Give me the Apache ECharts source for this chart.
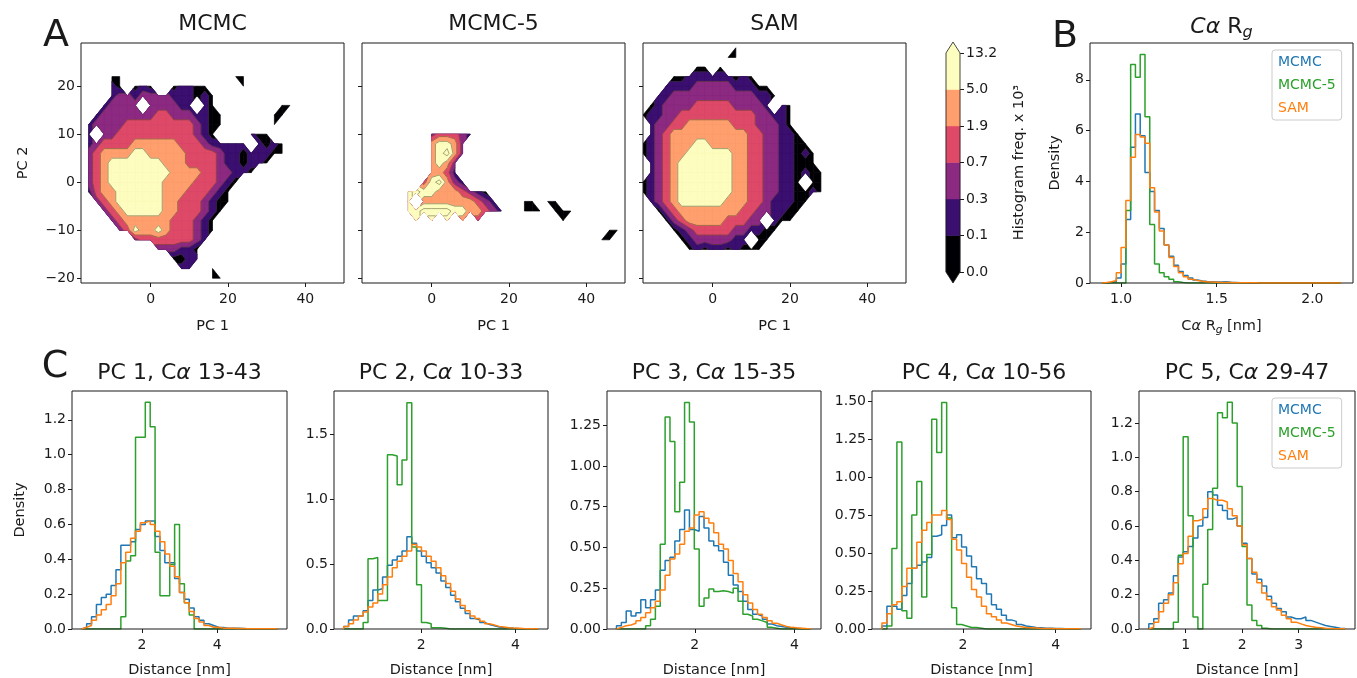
<!DOCTYPE html>
<html>
<head>
<meta charset="utf-8">
<title>MCMC / MCMC-5 / SAM</title>
<script src="https://cdn.jsdelivr.net/npm/echarts@6.0.0/dist/echarts.min.js"></script>
<style>
  html, body { margin: 0; background: #fff; }
  #main { width: 1357px; height: 678px; }
</style>
</head>
<body>
<div id="main"></div>
<script>
const FONT = 'DejaVu Sans';
const INK = '#1a1a1a';
const seriesNames = ['MCMC', 'MCMC-5', 'SAM'];
const seriesColors = ['#1f77b4', '#2ca02c', '#ff7f0e'];

// A: PC1/PC2 2D histograms. one digit per grid node, 0 = empty bin,
// 1..6 = contour band between levels[k-1] and levels[k], 7 = above the top level
const levels = [0.0, 0.1, 0.3, 0.7, 1.9, 5.0, 13.2];
const bandColors = ['#000004', '#3b0f70', '#8c2981', '#de4968', '#fe9f6d', '#fcfdbf'];
const overColor = '#fcfdbf';
const nodeX0 = -18, nodeY0 = 28, nodeStep = 2;

const mcmcGrid = [
  '', '', '',
  '00001100000000000000110000000',
  '00002101210012211000010000000',
  '00002332333322212100000000000',
  '00023333033332202100000000110',
  '00233333334433322110000001100',
  '02333344444444432110000001000',
  '02033444444444432100002110000',
  '02344445555554443222220212100',
  '03455556655555444432212221100',
  '03456666666555444432212210000',
  '03456666666655554433221000000',
  '03456666666555544432100000000',
  '02455666666555444321000000000',
  '00345666666554443211000000000',
  '00034566666554443210000000000',
  '00003455555544432100000000000',
  '00000346556544432100000000000',
  '00000003444444432000000000000',
  '00000000003332210000000000000',
  '00000000000011220000000000000',
  '00000000000002200100000000000',
  '00000000000000000110000000000'
];

const mcmc5Grid = [
  '', '', '', '', '', '', '', '', '',
  '000000000344432',
  '00000000056653',
  '00000000056753',
  '0000000005653',
  '0000000005542',
  '00000000467532',
  '00000067665554321',
  '00000060555555543200011011',
  '0000006677776655432001110111',
  '000000060606050400000000001',
  '0000000000000000000000000000000011',
  '000000000000000000000000000000011',
  '', '', '', ''
];

const samGrid = [
  '0000000000001',
  '0000000000011',
  '00000001101',
  '000011222222121',
  '00022223333322211',
  '002233333333333221',
  '01233334444433332021',
  '12233444444444433221',
  '02334455555544433321',
  '023455555555554433221',
  '1234555665555544332211',
  '12345566666655443322121',
  '02345666666655443322111',
  '023456666666554433221211',
  '123456666666554433221011',
  '123456666666554433221121',
  '0234566666655544322211',
  '001345555555544332211',
  '00013455555444330211',
  '000012344444332211',
  '00000123333322011',
  '0000001212212111',
  '', '', ''
];

// B: C-alpha radius of gyration histograms (density), shared bins
const rgStart = 0.9, rgWidth = 0.025;
const rgMcmc = [0, 0.02, 0.05, 0.2, 0.75, 2.5, 5.35, 6.65, 5.8, 4.35,
  3.6, 2.85, 2.15, 1.5, 1.05, 0.7, 0.45, 0.3, 0.2, 0.12,
  0.08, 0.06, 0.05, 0.04, 0.04, 0.05, 0.03, 0.02, 0.01, 0.01,
  0, 0, 0, 0, 0, 0, 0, 0, 0, 0, 0, 0, 0, 0, 0, 0, 0, 0, 0, 0];
const rgMcmc5 = [0, 0, 0, 0, 0, 2.85, 8.6, 8.1, 9.0, 6.55,
  2.3, 0.75, 0.4, 0.25, 0.15, 0.05, 0.02, 0, 0, 0,
  0, 0, 0, 0, 0, 0, 0, 0, 0, 0, 0, 0, 0, 0, 0, 0, 0, 0, 0, 0,
  0, 0, 0, 0, 0, 0, 0, 0, 0, 0];
const rgSam = [0.02, 0.05, 0.1, 0.4, 1.4, 3.25, 4.95, 5.85, 5.75, 5.5,
  3.75, 2.8, 2.05, 1.5, 1.0, 0.65, 0.4, 0.25, 0.15, 0.1,
  0.07, 0.05, 0.04, 0.03, 0.02, 0.02, 0.015, 0.01, 0.01, 0.008,
  0.005, 0.005, 0.004, 0.004, 0.003, 0.003, 0.002, 0.002, 0.002, 0.001,
  0.001, 0.001, 0.001, 0.001, 0.001, 0.001, 0.001, 0.001, 0.001, 0.001];

// C: distance histograms for the five PCs (40 shared bins each)
const pcTitles = ['PC 1, C{it|α} 13-43', 'PC 2, C{it|α} 10-33', 'PC 3, C{it|α} 15-35',
  'PC 4, C{it|α} 10-56', 'PC 5, C{it|α} 29-47'];
const pcBinStart = [0.4, 0.36, 0.43, 0.25, 0.35];
const pcBinWidth = [0.13, 0.103, 0.0975, 0.1075, 0.0868];

const pc1Mcmc = [0.01, 0.03, 0.07, 0.14, 0.18, 0.2, 0.25, 0.34, 0.48, 0.48,
  0.5, 0.57, 0.6, 0.62, 0.62, 0.53, 0.45, 0.38, 0.38, 0.29,
  0.21, 0.17, 0.12, 0.07, 0.05, 0.03, 0.02, 0.01, 0.008, 0.005,
  0.005, 0.004, 0.003, 0.002, 0.002, 0.002, 0.001, 0.001, 0.001, 0.001];
const pc1Mcmc5 = [0, 0, 0, 0, 0, 0, 0, 0, 0.07, 0.39,
  0.42, 1.1, 1.1, 1.3, 1.16, 0.44, 0.19, 0.19, 0.37, 0.6,
  0.26, 0.15, 0.08, 0, 0, 0, 0, 0, 0, 0,
  0, 0, 0, 0, 0, 0, 0, 0, 0, 0];
const pc1Sam = [0.01, 0.02, 0.05, 0.08, 0.11, 0.14, 0.19, 0.26, 0.38, 0.44,
  0.52, 0.56, 0.61, 0.62, 0.6, 0.56, 0.5, 0.43, 0.36, 0.3,
  0.21, 0.15, 0.1, 0.06, 0.04, 0.02, 0.01, 0.01, 0.005, 0.005,
  0.004, 0.003, 0.003, 0.002, 0.002, 0.001, 0.001, 0.001, 0.001, 0.001];

const pc2Mcmc = [0.02, 0.07, 0.1, 0.1, 0.14, 0.22, 0.3, 0.31, 0.4, 0.49,
  0.53, 0.56, 0.6, 0.71, 0.66, 0.6, 0.56, 0.51, 0.47, 0.43,
  0.37, 0.32, 0.26, 0.21, 0.16, 0.12, 0.08, 0.07, 0.05, 0.035,
  0.025, 0.015, 0.01, 0.008, 0.005, 0.003, 0.002, 0.001, 0.001, 0.001];
const pc2Mcmc5 = [0, 0, 0, 0, 0.05, 0.54, 0.55, 0.22, 0.22, 1.34,
  1.33, 1.11, 1.3, 1.74, 0.63, 0.34, 0.05, 0.04, 0.01, 0.01,
  0.005, 0, 0, 0, 0, 0, 0, 0, 0, 0,
  0, 0, 0, 0, 0, 0, 0, 0, 0, 0];
const pc2Sam = [0.02, 0.04, 0.07, 0.1, 0.13, 0.17, 0.2, 0.27, 0.34, 0.4,
  0.47, 0.52, 0.56, 0.6, 0.65, 0.63, 0.6, 0.56, 0.52, 0.47,
  0.41, 0.35, 0.29, 0.23, 0.18, 0.14, 0.1, 0.08, 0.06, 0.04,
  0.03, 0.02, 0.015, 0.01, 0.007, 0.005, 0.003, 0.002, 0.001, 0.001];

const pc3Mcmc = [0.02, 0.04, 0.11, 0.08, 0.1, 0.18, 0.13, 0.18, 0.24, 0.36,
  0.42, 0.44, 0.54, 0.61, 0.73, 0.61, 0.6, 0.69, 0.62, 0.54,
  0.51, 0.48, 0.41, 0.33, 0.27, 0.23, 0.17, 0.12, 0.09, 0.08,
  0.06, 0.03, 0.02, 0.015, 0.01, 0.008, 0.005, 0.003, 0.002, 0.001];
const pc3Mcmc5 = [0, 0, 0, 0, 0, 0, 0.02, 0.06, 0.14, 0.52,
  1.3, 1.15, 0.72, 0.9, 1.39, 1.27, 0.49, 0.14, 0.19, 0.245,
  0.23, 0.235, 0.23, 0.22, 0.25, 0.17, 0.09, 0.08, 0.06, 0.05,
  0.04, 0.01, 0.005, 0, 0, 0, 0, 0, 0, 0];
const pc3Sam = [0.01, 0.02, 0.025, 0.035, 0.05, 0.07, 0.1, 0.13, 0.17, 0.24,
  0.33, 0.43, 0.46, 0.52, 0.6, 0.62, 0.7, 0.72, 0.68, 0.65,
  0.59, 0.52, 0.49, 0.42, 0.34, 0.29, 0.21, 0.16, 0.12, 0.09,
  0.07, 0.05, 0.035, 0.025, 0.015, 0.01, 0.007, 0.005, 0.003, 0.002];

const pc4Mcmc = [0.02, 0.15, 0.15, 0.13, 0.22, 0.3, 0.4, 0.42, 0.44, 0.47,
  0.61, 0.62, 0.68, 0.75, 0.6, 0.62, 0.54, 0.48, 0.41, 0.33,
  0.3, 0.23, 0.16, 0.13, 0.09, 0.06, 0.05, 0.03, 0.02, 0.015,
  0.01, 0.008, 0.005, 0.005, 0.003, 0.003, 0.002, 0.002, 0.001, 0.001];
const pc4Mcmc5 = [0, 0.02, 0.53, 1.23, 0.12, 0.07, 0.75, 0.97, 0.21, 0.49,
  1.38, 1.16, 1.49, 0.73, 0.14, 0.03, 0.02, 0.01, 0.01, 0.005,
  0, 0, 0, 0, 0, 0, 0, 0, 0, 0,
  0, 0, 0, 0, 0, 0, 0, 0, 0, 0];
const pc4Sam = [0.04, 0.1, 0.16, 0.18, 0.28, 0.4, 0.4, 0.57, 0.65, 0.7,
  0.75, 0.75, 0.78, 0.72, 0.59, 0.52, 0.43, 0.34, 0.26, 0.21,
  0.15, 0.1, 0.08, 0.06, 0.04, 0.03, 0.02, 0.015, 0.01, 0.008,
  0.006, 0.004, 0.003, 0.003, 0.002, 0.002, 0.001, 0.001, 0.001, 0.001];

const pc5Mcmc = [0.03, 0.06, 0.15, 0.17, 0.21, 0.31, 0.42, 0.45, 0.48, 0.53,
  0.6, 0.65, 0.8, 0.78, 0.72, 0.69, 0.64, 0.65, 0.6, 0.5,
  0.41, 0.32, 0.29, 0.25, 0.19, 0.15, 0.12, 0.1, 0.07, 0.06,
  0.06, 0.07, 0.05, 0.04, 0.03, 0.02, 0.015, 0.01, 0.005, 0.003];
const pc5Mcmc5 = [0, 0, 0, 0, 0, 0.04, 0.43, 1.12, 0.66, 0.07,
  0, 0.26, 0.58, 0.82, 1.26, 1.23, 1.32, 1.2, 0.83, 0.48,
  0.14, 0.05, 0.02, 0.005, 0, 0, 0, 0, 0, 0,
  0, 0, 0, 0, 0, 0, 0, 0, 0, 0];
const pc5Sam = [0.01, 0.04, 0.1, 0.15, 0.2, 0.27, 0.38, 0.44, 0.54, 0.63,
  0.64, 0.7, 0.76, 0.75, 0.75, 0.74, 0.7, 0.66, 0.6, 0.49,
  0.41, 0.33, 0.27, 0.21, 0.17, 0.13, 0.11, 0.08, 0.06, 0.04,
  0.03, 0.02, 0.015, 0.01, 0.008, 0.005, 0.003, 0.002, 0.001, 0.001];

const pcHists = [
  [pc1Mcmc, pc1Mcmc5, pc1Sam],
  [pc2Mcmc, pc2Mcmc5, pc2Sam],
  [pc3Mcmc, pc3Mcmc5, pc3Sam],
  [pc4Mcmc, pc4Mcmc5, pc4Sam],
  [pc5Mcmc, pc5Mcmc5, pc5Sam]
];

// ---------- layout ----------
const gridRects = [
  [81, 43, 263, 240], [362, 43, 263, 240], [643, 43, 263, 240],   // A
  [946, 42, 14, 241],                                               // colour bar
  [1090, 43, 263, 240],                                             // B
  [72, 391, 215, 238], [334, 391, 214, 238], [607, 391, 214, 238],  // C
  [872, 391, 219, 238], [1139, 391, 216, 238]
];
const pcXRange = [[0.14, 5.86], [0.154, 4.69], [0.24, 4.53], [0.035, 4.765], [0.176, 3.996]];
const pcYMax = [1.365, 1.83, 1.46, 1.565, 1.386];
const pcYTicks = [
  [0, 0.2, 0.4, 0.6, 0.8, 1.0, 1.2],
  [0, 0.5, 1.0, 1.5],
  [0, 0.25, 0.5, 0.75, 1.0, 1.25],
  [0, 0.25, 0.5, 0.75, 1.0, 1.25, 1.5],
  [0, 0.2, 0.4, 0.6, 0.8, 1.0, 1.2]
];
const pcYDigits = [1, 1, 2, 2, 1];
const pcXTicks = [[2, 4], [2, 4], [2, 4], [2, 4], [1, 2, 3]];

// ---------- helpers ----------
const fillColors = bandColors.concat([overColor]);

function buildCells(rows) {
  const node = (r, c) => {
    const ch = (rows[r] || '').charAt(c);
    return ch && ch !== '0' ? Number(ch) : -1;
  };
  const ncol = Math.max(...rows.map(s => s.length));
  const cells = [];
  for (let r = 0; r < rows.length - 1; r++) {
    for (let c = 0; c < ncol - 1; c++) {
      const v = [node(r, c), node(r, c + 1), node(r + 1, c + 1), node(r + 1, c)];
      if (v.filter(x => x > 0).length < 3) continue;   // corner masking like contourf
      cells.push([nodeX0 + c * nodeStep, nodeY0 - r * nodeStep].concat(v));
    }
  }
  return cells;
}

function cellShape(api) {
  const x0 = api.value(0), y0 = api.value(1);
  const vals = [api.value(2), api.value(3), api.value(4), api.value(5)];
  const pos = [[x0, y0], [x0 + nodeStep, y0], [x0 + nodeStep, y0 - nodeStep], [x0, y0 - nodeStep]];
  const shape = [];
  for (let i = 0; i < 4; i++) {
    if (vals[i] > 0) shape.push({ p: api.coord(pos[i]), v: vals[i] });
  }
  return shape;
}

// part of a cell where the interpolated value is >= t
function clipAbove(shape, t) {
  const pts = [], cut = [];
  for (let i = 0; i < shape.length; i++) {
    const a = shape[i], q = shape[(i + 1) % shape.length];
    if (a.v >= t) { pts.push(a.p); cut.push(false); }
    if ((a.v >= t) !== (q.v >= t)) {
      const f = (t - a.v) / (q.v - a.v);
      pts.push([a.p[0] + f * (q.p[0] - a.p[0]), a.p[1] + f * (q.p[1] - a.p[1])]);
      cut.push(true);
    }
  }
  return { pts, cut };
}

function bandRenderer(b) {
  return function (params, api) {
    const { pts } = clipAbove(cellShape(api), b === 0 ? -Infinity : b + 0.5);
    if (pts.length < 3) return null;
    return { type: 'polygon', shape: { points: pts },
      style: { fill: fillColors[b], stroke: fillColors[b], lineWidth: 0.7 } };
  };
}

function renderContourLines(params, api) {
  const shape = cellShape(api);
  const children = [];
  for (let b = 1; b < fillColors.length; b++) {
    const { pts, cut } = clipAbove(shape, b + 0.5);
    if (pts.length < 3) continue;
    for (let i = 0; i < pts.length; i++) {
      const j = (i + 1) % pts.length;
      if (cut[i] && cut[j]) {
        children.push({ type: 'line',
          shape: { x1: pts[i][0], y1: pts[i][1], x2: pts[j][0], y2: pts[j][1] },
          style: { stroke: 'rgba(60,60,30,0.45)', lineWidth: 1 } });
      }
    }
  }
  return { type: 'group', children };
}

function renderColorbar(params, api) {
  const k = api.value(0);
  const c = (x, y) => api.coord([x, y]);
  const n = bandColors.length;
  if (k >= 0 && k < n) {
    const p0 = c(0, k + 1), p1 = c(1, k);
    return { type: 'rect', shape: { x: p0[0], y: p0[1], width: p1[0] - p0[0], height: p1[1] - p0[1] },
      style: { fill: bandColors[k], stroke: bandColors[k], lineWidth: 0.5 } };
  }
  if (k === -1) {
    return { type: 'polygon', shape: { points: [c(0, 0), c(1, 0), c(0.5, -0.3)] }, style: { fill: bandColors[0] } };
  }
  if (k === n) {
    return { type: 'polygon', shape: { points: [c(0, n), c(1, n), c(0.5, n + 0.3)] }, style: { fill: overColor } };
  }
  return { type: 'polygon',
    shape: { points: [c(0, 0), c(0.5, -0.3), c(1, 0), c(1, n), c(0.5, n + 0.3), c(0, n)] },
    style: { fill: 'none', stroke: INK, lineWidth: 0.8 } };
}

function stepPoints(start, width, h) {
  const pts = [[start, 0]];
  h.forEach((v, i) => pts.push([start + i * width, v]));
  const end = start + h.length * width;
  pts.push([end, h[h.length - 1]]);
  pts.push([end, 0]);
  return pts;
}

function histSeries(idx, start, width, hists) {
  return hists.map((h, k) => ({
    type: 'line', name: seriesNames[k], xAxisIndex: idx, yAxisIndex: idx,
    data: stepPoints(start, width, h), step: 'end', symbol: 'none', showSymbol: false,
    lineStyle: { color: seriesColors[k], width: 1.5 }, itemStyle: { color: seriesColors[k] },
    silent: true, animation: false, z: 3 + k
  }));
}

function axis(gridIndex, o) {
  const isX = o.position === 'bottom';
  return {
    type: 'value', gridIndex, min: o.min, max: o.max,
    position: o.position,
    axisLine: { show: false, onZero: false },
    splitLine: { show: false },
    axisTick: { show: true, customValues: o.ticks, length: 4, lineStyle: { color: INK, width: 1 } },
    axisLabel: { show: o.labels !== false, customValues: o.ticks, formatter: o.fmt,
      color: INK, fontSize: 14, fontFamily: FONT, margin: isX ? 9 : 6 },
    name: o.name || '', nameLocation: 'middle', nameGap: o.nameGap, nameRotate: o.nameRotate,
    nameTextStyle: { color: INK, fontSize: 14.5, fontFamily: FONT, rich: o.rich }
  };
}

const signed = v => (v < 0 ? '\u2212' + Math.abs(v) : String(v));

// ---------- axes ----------
const xAxes = [], yAxes = [];
for (let i = 0; i < 3; i++) {
  xAxes.push(axis(i, { min: -18, max: 50, ticks: [0, 20, 40], fmt: signed, position: 'bottom',
    name: 'PC 1', nameGap: 36 }));
  yAxes.push(axis(i, { min: -21, max: 29, ticks: [-20, -10, 0, 10, 20], fmt: signed, position: 'left',
    labels: i === 0, name: i === 0 ? 'PC 2' : '', nameGap: 50, nameRotate: 90 }));
}
xAxes.push({ type: 'value', gridIndex: 3, min: 0, max: 1, show: false });
yAxes.push(axis(3, { min: -0.3, max: levels.length - 0.7, ticks: levels.map((_, i) => i),
  fmt: v => levels[Math.round(v)].toFixed(1), position: 'right',
  name: 'Histogram freq. x 10\u00b3', nameGap: 52, nameRotate: 90 }));
xAxes.push(axis(4, { min: 0.8375, max: 2.2125, ticks: [1.0, 1.5, 2.0], fmt: v => v.toFixed(1),
  position: 'bottom', name: 'C{it|α} R{sub|g} [nm]', nameGap: 34,
  rich: { it: { fontStyle: 'italic', fontSize: 14.5, fontFamily: FONT },
          sub: { fontStyle: 'italic', fontSize: 10.5, fontFamily: FONT, padding: [8, 0, 0, 0], verticalAlign: 'bottom' } } }));
yAxes.push(axis(4, { min: 0, max: 9.45, ticks: [0, 2, 4, 6, 8], fmt: v => String(v), position: 'left',
  name: 'Density', nameGap: 27, nameRotate: 90 }));
for (let p = 0; p < 5; p++) {
  xAxes.push(axis(5 + p, { min: pcXRange[p][0], max: pcXRange[p][1], ticks: pcXTicks[p], fmt: v => String(v),
    position: 'bottom', name: 'Distance [nm]', nameGap: 34 }));
  yAxes.push(axis(5 + p, { min: 0, max: pcYMax[p], ticks: pcYTicks[p], fmt: v => v.toFixed(pcYDigits[p]),
    position: 'left', name: p === 0 ? 'Density' : '', nameGap: 44, nameRotate: 90 }));
}

// ---------- series ----------
const series = [];
[mcmcGrid, mcmc5Grid, samGrid].forEach((g, i) => {
  const cells = buildCells(g);
  const base = { type: 'custom', coordinateSystem: 'cartesian2d', xAxisIndex: i, yAxisIndex: i,
    data: cells, encode: { x: 0, y: 1 }, clip: true, silent: true, animation: false };
  fillColors.forEach((_, b) => series.push(Object.assign({}, base,
    { name: 'band-' + i + '-' + b, renderItem: bandRenderer(b), z: 2 })));
  series.push(Object.assign({}, base, { name: 'lines-' + i, renderItem: renderContourLines, z: 2 }));
});
series.push({
  type: 'custom', name: 'colorbar', coordinateSystem: 'cartesian2d', xAxisIndex: 3, yAxisIndex: 3,
  renderItem: renderColorbar, data: [-1, 0, 1, 2, 3, 4, 5, 6, 7].map(k => [k]),
  encode: { y: 0 }, silent: true, animation: false
});
series.push(...histSeries(4, rgStart, rgWidth, [rgMcmc, rgMcmc5, rgSam]));
pcHists.forEach((h, p) => series.push(...histSeries(5 + p, pcBinStart[p], pcBinWidth[p], h)));

// ---------- titles ----------
function label(x, y, text, size, richStyle) {
  return { type: 'text', x, y, silent: true, z: 100,
    style: { text, fill: INK, font: size + 'px "' + FONT + '"', fontSize: size, fontFamily: FONT,
      align: 'center', verticalAlign: 'middle', textAlign: 'center', textVerticalAlign: 'middle', rich: richStyle } };
}
const titleRich = {
  it: { fontStyle: 'italic', fontSize: 22, fontFamily: FONT, fill: INK },
  sub: { fontStyle: 'italic', fontSize: 16, fontFamily: FONT, fill: INK, padding: [11, 0, 0, 0], verticalAlign: 'bottom' }
};
const graphics = [
  label(56, 36, 'A', 38), label(1065, 37, 'B', 38), label(55, 367, 'C', 38),
  label(212.5, 24, 'MCMC', 22), label(493.5, 24, 'MCMC-5', 22), label(774.5, 24, 'SAM', 22),
  label(1221.5, 27, '{it|Cα} R{sub|g}', 22, titleRich)
];
const pcCenters = [179.5, 441, 714, 984, 1247];
pcTitles.forEach((t, p) => graphics.push(label(pcCenters[p], 373, t, 22, titleRich)));

function legend(top) {
  return {
    orient: 'vertical', left: 1272, top, selectedMode: false,
    icon: 'none', itemWidth: 0, itemHeight: 14, itemGap: 9,
    padding: [5, 6, 5, 1], backgroundColor: 'rgba(255,255,255,0.85)',
    borderColor: '#cccccc', borderWidth: 1, borderRadius: 3,
    textStyle: { fontSize: 14, fontFamily: FONT },
    data: seriesNames.map((n, k) => ({ name: n, icon: 'none', textStyle: { color: seriesColors[k] } }))
  };
}

const chart = echarts.init(document.getElementById('main'), null, { renderer: 'canvas' });
chart.setOption({
  animation: false,
  backgroundColor: '#ffffff',
  textStyle: { fontFamily: FONT },
  grid: gridRects.map((r, i) => ({
    left: r[0], top: r[1], width: r[2], height: r[3], z: 5,
    show: i !== 3, borderColor: INK, borderWidth: 1, backgroundColor: 'transparent',
    containLabel: false, outerBoundsMode: 'none'
  })),
  xAxis: xAxes,
  yAxis: yAxes,
  legend: [legend(50), legend(398)],
  series,
  graphic: graphics
});
</script>
</body>
</html>
